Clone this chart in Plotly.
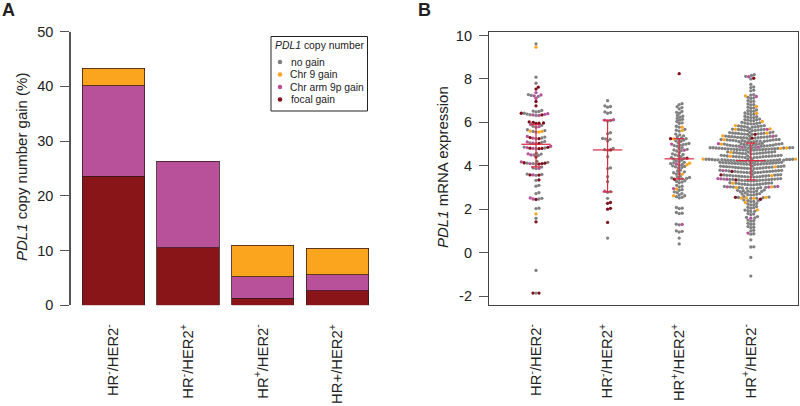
import math
import plotly.graph_objects as go

# panel A values
bar_labels = ["HR<sup>-</sup>/HER2<sup>-</sup>", "HR<sup>-</sup>/HER2<sup>+</sup>",
              "HR<sup>+</sup>/HER2<sup>-</sup>", "HR+/HER2<sup>+</sup>"]
focal_pct = [23.6, 10.5, 1.3, 2.7]
arm9p_pct = [16.5, 15.8, 3.9, 2.9]
chr9_pct = [3.2, None, 5.8, 4.8]
y_ticks_a = [0, 10, 20, 30, 40, 50]

# panel B values, one list per group and copy number class
swarm_labels = ["HR<sup>-</sup>/HER2<sup>-</sup>", "HR<sup>-</sup>/HER2<sup>+</sup>",
                "HR<sup>+</sup>/HER2<sup>+</sup>", "HR<sup>+</sup>/HER2<sup>-</sup>"]
y_ticks_b = [-2, 0, 2, 4, 6, 8, 10]
y_tick_text_b = ["-2", "0", "2", "4", "6", "8", "10"]

g1_gray = [-1.86, -0.82, 1.58, 2.03, 2.05, 2.47, 2.5, 2.72, 2.76, 3.06, 3.1, 3.33, 3.56, 3.6, 3.62, 3.87, 3.9, 3.94,
           4.07, 4.1, 4.12, 4.16, 4.2, 4.48, 4.5, 4.54, 4.58, 4.79, 4.82, 4.86, 5.02, 5.05, 5.08, 5.12, 5.25, 5.28,
           5.32, 5.55, 5.58, 5.62, 5.66, 5.78, 5.82, 5.86, 6.32, 6.35, 6.38, 6.42, 6.48, 6.5, 6.52, 6.55, 7.2, 7.24,
           7.28, 7.8, 8.08, 9.61]
g1_orange = [1.79, 5.55, 5.58, 5.6, 9.46]
g1_purple = [2.47, 2.52, 3.58, 3.88, 4.1, 4.18, 4.5, 4.55, 4.8, 4.84, 4.9, 5.04, 5.1, 5.27, 5.35, 5.8, 5.9, 6.32,
             6.34, 6.37, 6.4, 7.11, 7.22, 7.26, 7.37]
g1_focal = [-1.86, -1.86, 1.42, 2.45, 3.35, 3.57, 3.58, 4.08, 4.1, 4.12, 4.14, 4.4, 4.79, 4.8, 4.81, 4.85, 5.03,
            5.25, 5.3, 5.95, 5.96, 5.97, 6.0, 6.02, 6.34, 6.42, 6.76, 6.96, 7.53, 7.62]

g2_gray = [0.67, 2.5, 2.78, 2.81, 3.27, 3.5, 3.87, 3.9, 4.42, 4.72, 4.74, 4.8, 5.14, 5.22, 5.24, 5.26, 5.48, 5.52,
           6.06, 6.08, 6.42, 6.45, 6.48, 6.7, 6.73, 6.76, 7.0]
g2_purple = [2.83, 6.1, 6.12]
g2_focal = [1.39, 2.0, 2.04, 2.27, 2.31, 4.73]

g3_gray = [0.4, 0.67, 0.95, 0.98, 1.0, 1.28, 1.31, 1.8, 1.82, 1.85, 2.03, 2.05, 2.08, 2.52, 2.55, 2.58, 2.62, 2.66,
           2.72, 2.76, 2.8, 2.87, 2.9, 3.02, 3.06, 3.1, 3.22, 3.25, 3.28, 3.31, 3.38, 3.4, 3.42, 3.44, 3.46, 3.49,
           3.52, 3.62, 3.65, 3.68, 3.72, 3.76, 3.8, 3.9, 3.92, 3.95, 3.97, 4.0, 4.03, 4.06, 4.1, 4.14, 4.16, 4.18,
           4.22, 4.26, 4.3, 4.32, 4.34, 4.38, 4.42, 4.47, 4.5, 4.52, 4.55, 4.6, 4.68, 4.7, 4.73, 4.76, 4.8, 4.84,
           4.9, 4.93, 4.95, 4.97, 5.0, 5.03, 5.06, 5.12, 5.15, 5.18, 5.22, 5.25, 5.28, 5.34, 5.38, 5.42, 5.46, 5.6,
           5.64, 5.68, 5.78, 5.82, 5.95, 5.98, 6.04, 6.1, 6.14, 6.18, 6.24, 6.28, 6.32, 6.42, 6.46, 6.5, 6.62, 6.68,
           6.72, 6.82, 6.86]
g3_orange = [2.62, 2.93, 3.62, 4.05, 4.12, 5.24, 5.62, 5.78]
g3_purple = [1.3, 2.95, 4.08, 4.72, 5.0]
g3_focal = [3.38, 4.35, 5.25, 8.24]

g4_gray = [-1.08, -0.22, 0.26, 0.27, 0.59, 0.85, 0.87, 1.0, 1.03, 1.15, 1.17, 1.2, 1.3, 1.32, 1.35, 1.45, 1.47, 1.5,
           1.6, 1.62, 1.66, 1.75, 1.78, 1.8, 1.9, 1.91, 1.94, 1.96, 2.05, 2.07, 2.09, 2.12, 2.2, 2.21, 2.24, 2.26,
           2.35, 2.36, 2.38, 2.4, 2.43, 2.5, 2.51, 2.53, 2.54, 2.56, 2.59, 2.65, 2.66, 2.67, 2.69, 2.7, 2.72, 2.75,
           2.8, 2.8, 2.81, 2.82, 2.83, 2.84, 2.85, 2.87, 2.89,
           2.95, 2.95, 2.96, 2.97, 2.98, 2.99, 3.0, 3.01, 3.02, 3.03, 3.04, 3.05,
           3.12, 3.12, 3.13, 3.14, 3.15, 3.15, 3.16, 3.17, 3.18, 3.19, 3.2, 3.2, 3.21, 3.22,
           3.3, 3.3, 3.31, 3.31, 3.32, 3.33, 3.33, 3.34, 3.35, 3.35, 3.36, 3.37, 3.37, 3.38, 3.39, 3.39, 3.4, 3.41,
           3.48, 3.48, 3.49, 3.49, 3.5, 3.5, 3.51, 3.52, 3.52, 3.53, 3.54, 3.54, 3.55, 3.56, 3.56, 3.57, 3.58, 3.58,
           3.59, 3.6,
           3.68, 3.68, 3.69, 3.69, 3.7, 3.7, 3.71, 3.72, 3.72, 3.73, 3.74, 3.74, 3.75, 3.76, 3.76, 3.77, 3.78, 3.78,
           3.79, 3.8,
           3.87, 3.87, 3.88, 3.88, 3.89, 3.89, 3.9, 3.9, 3.91, 3.92, 3.92, 3.93, 3.94, 3.94, 3.95, 3.96, 3.96, 3.97,
           3.97, 3.98, 3.98, 3.99,
           4.06, 4.06, 4.07, 4.07, 4.08, 4.08, 4.09, 4.09, 4.1, 4.1, 4.11, 4.11, 4.12, 4.12, 4.13, 4.13, 4.14, 4.14,
           4.15, 4.15, 4.16, 4.16,
           4.2, 4.2, 4.2, 4.21, 4.21, 4.21, 4.22, 4.22, 4.23, 4.23, 4.24, 4.24, 4.25, 4.25, 4.26, 4.26, 4.26, 4.27,
           4.27, 4.27, 4.28, 4.28, 4.28, 4.29, 4.29, 4.29, 4.3, 4.3, 4.3, 4.31,
           4.38, 4.38, 4.39, 4.39, 4.4, 4.4, 4.41, 4.42, 4.42, 4.43, 4.43, 4.44, 4.45, 4.45, 4.46, 4.46, 4.47, 4.47,
           4.48, 4.48,
           4.55, 4.55, 4.56, 4.56, 4.57, 4.58, 4.58, 4.59, 4.6, 4.61, 4.61, 4.62, 4.63, 4.63, 4.64, 4.65,
           4.72, 4.72, 4.72, 4.73, 4.73, 4.74, 4.74, 4.75, 4.75, 4.76, 4.76, 4.77, 4.77, 4.78, 4.78, 4.79, 4.79, 4.8,
           4.8, 4.81, 4.81, 4.82, 4.82, 4.83, 4.83, 4.83, 4.84, 4.84, 4.85, 4.85,
           4.9, 4.9, 4.91, 4.91, 4.92, 4.92, 4.93, 4.94, 4.94, 4.95, 4.96, 4.96, 4.97, 4.98, 4.98, 4.99, 5.0, 5.0,
           5.01, 5.02, 5.02, 5.03,
           5.1, 5.1, 5.11, 5.11, 5.12, 5.13, 5.13, 5.14, 5.15, 5.15, 5.16, 5.17, 5.17, 5.18, 5.19, 5.19, 5.2, 5.21,
           5.21, 5.22,
           5.28, 5.28, 5.29, 5.29, 5.3, 5.31, 5.31, 5.32, 5.33, 5.33, 5.34, 5.35, 5.35, 5.36, 5.37, 5.38,
           5.45, 5.45, 5.46, 5.47, 5.47, 5.48, 5.49, 5.5, 5.5, 5.51, 5.52, 5.53, 5.54, 5.55,
           5.62, 5.62, 5.63, 5.64, 5.65, 5.66, 5.66, 5.67, 5.68, 5.69, 5.7,
           5.78, 5.78, 5.79, 5.8, 5.81, 5.82, 5.83, 5.84, 5.85,
           5.93, 5.93, 5.94, 5.95, 5.97, 5.98, 6.0,
           6.08, 6.08, 6.1, 6.12, 6.13, 6.15,
           6.22, 6.22, 6.24, 6.26, 6.28, 6.36, 6.37, 6.4, 6.43,
           6.5, 6.51, 6.54, 6.57, 6.65, 6.67, 6.7, 6.8, 6.82, 6.85, 6.95, 6.97, 7.0, 7.1, 7.12, 7.15,
           7.25, 7.28, 7.45, 7.48, 7.6, 7.63, 7.75, 8.0, 8.12, 8.16, 8.2]
g4_orange = [1.97, 2.31, 2.5, 2.51, 2.52, 2.55, 3.0, 3.03, 3.2, 3.55, 3.95, 4.31, 4.31, 4.44, 4.62, 4.8, 4.82, 5.0,
             5.2, 5.38, 5.5, 5.68, 5.7, 5.85, 6.04, 6.42, 6.73, 7.22]
g4_purple = [0.9, 1.59, 3.02, 3.03, 3.05, 3.38, 3.4, 3.41, 3.78, 4.86, 4.86, 5.02, 5.36, 5.68, 7.19, 8.1]
g4_focal = [2.46, 2.55, 3.35, 3.58, 3.74, 5.27, 5.45, 8.03]

g1_stats = [3.95, 4.99, 5.9]
g2_stats = [2.8, 4.73, 6.1]
g3_stats = [3.4, 4.32, 5.25]
g4_stats = [3.35, 4.24, 5.04]

legend_labels = ["no gain", "Chr 9 gain", "Chr arm 9p gain", "focal gain"]

GRAY = "#808080"
ORANGE = "#FBA41D"
PURPLE = "#B8509A"
DARK = "#8A1519"
POINT_DARK = "#7E0F1B"
RED = "#DC2A40"
AXIS = "#555555"
FONT = "Liberation Sans"

W, H = 800, 406
BX0, BX1, BY0, BY1 = 489, 798, 32, 305
GROUP_STEP = 71.6     # px between swarm columns
UNIT_PX = 21.73       # px per expression unit
DOT = 3.0


def fx(px):
    return px / W


def fy(px):
    return 1 - px / H


def swarm(values):
    # ascending swarm: every point goes as near the centre line as it can
    placed = []
    for v, cat in sorted(values, key=lambda t: t[0]):
        y = v * UNIT_PX
        near = [(px, py) for px, py, _, _ in placed if abs(py - y) < DOT]
        cands = [0.0]
        for px, py in near:
            dx = math.sqrt(DOT ** 2 - (py - y) ** 2)
            cands += [px + dx, px - dx]
        cands.sort(key=abs)
        for c in cands:
            if all((c - px) ** 2 + (y - py) ** 2 >= DOT ** 2 - 1e-6 for px, py in near):
                placed.append((c, y, v, cat))
                break
    return placed


fig = go.Figure()

# panel A
for name, vals, col in [("focal", focal_pct, DARK), ("arm", arm9p_pct, PURPLE), ("chr9", chr9_pct, ORANGE)]:
    fig.add_trace(go.Bar(x=bar_labels, y=vals, width=0.836, marker=dict(color=col, line=dict(color="#3a1a1a", width=0.8)),
                         showlegend=False, name=name, xaxis="x", yaxis="y"))

# panel B
groups = [
    (g1_gray, g1_orange, g1_purple, g1_focal, g1_stats),
    (g2_gray, [], g2_purple, g2_focal, g2_stats),
    (g3_gray, g3_orange, g3_purple, g3_focal, g3_stats),
    (g4_gray, g4_orange, g4_purple, g4_focal, g4_stats),
]
points = {GRAY: ([], []), ORANGE: ([], []), PURPLE: ([], []), POINT_DARK: ([], [])}
for i, (gray, orange, purple, focal, _) in enumerate(groups):
    tagged = [(v, GRAY) for v in gray] + [(v, ORANGE) for v in orange] + \
             [(v, PURPLE) for v in purple] + [(v, POINT_DARK) for v in focal]
    for px, _, v, cat in swarm(tagged):
        points[cat][0].append(i + px / GROUP_STEP)
        points[cat][1].append(v)

for col, (xs, ys) in points.items():
    fig.add_trace(go.Scatter(x=xs, y=ys, mode="markers", marker=dict(color=col, size=3.3, line=dict(width=0)),
                             showlegend=False, xaxis="x2", yaxis="y2"))

# median and quartile bars
for i, (_, _, _, _, stats) in enumerate(groups):
    q1, med, q3 = stats
    fig.add_trace(go.Scatter(
        x=[i], y=[med], mode="markers", marker=dict(size=1, opacity=0), showlegend=False, xaxis="x2", yaxis="y2",
        error_y=dict(type="data", symmetric=False, array=[q3 - med], arrayminus=[med - q1], color=RED, thickness=1.2, width=5),
        error_x=dict(type="constant", value=0.205, color=RED, thickness=1.2, width=0)))

fig.update_layout(
    width=W, height=H, autosize=False, margin=dict(l=0, r=0, t=0, b=0, autoexpand=False),
    paper_bgcolor="white", plot_bgcolor="white", barmode="stack", showlegend=False,
    font=dict(family=FONT, size=14, color="#222222"),
    xaxis=dict(domain=[fx(71), fx(375)], range=[-0.57, 3.505], type="category", categoryorder="array",
               categoryarray=bar_labels, showline=False, showgrid=False, zeroline=False, ticks="outside", ticklen=12,
               tickcolor="rgba(0,0,0,0)", tickangle=-90, tickfont=dict(size=14.8)),
    yaxis=dict(domain=[fy(305.3), fy(31.7)], range=[0, 50], tickvals=y_ticks_a, showline=True, linecolor=AXIS, linewidth=1.5,
               ticks="outside", ticklen=9, tickcolor=AXIS, tickwidth=1.2, showgrid=False, zeroline=False,
               tickfont=dict(size=14.5), ticklabelstandoff=4, anchor="x"),
    xaxis2=dict(domain=[fx(BX0), fx(BX1)], range=[-(536 - BX0) / GROUP_STEP, (BX1 - 536) / GROUP_STEP], tickvals=[0, 1, 2, 3],
                ticktext=swarm_labels, showline=True, mirror=True, linecolor="#444444", linewidth=1.2, showgrid=False, zeroline=False,
                ticks="outside", ticklen=12, tickcolor="rgba(0,0,0,0)", tickangle=-90, tickfont=dict(size=14.8), anchor="y2"),
    yaxis2=dict(domain=[fy(BY1), fy(BY0)], range=[-2.41, 10.16], tickvals=y_ticks_b, ticktext=y_tick_text_b, showline=True,
                mirror=True, linecolor="#444444", linewidth=1.2, ticks="outside", ticklen=9, tickcolor=AXIS, tickwidth=1.2,
                showgrid=False, zeroline=False, tickfont=dict(size=14.5), ticklabelstandoff=4, anchor="x2"),
)


def note(x, y, text, size=14, xanchor="center", **kw):
    fig.add_annotation(xref="paper", yref="paper", x=fx(x), y=fy(y), text=text, showarrow=False, xanchor=xanchor, yanchor="middle",
                       font=dict(family=FONT, size=size, color="#222222"), **kw)


note(8, 10, "<b>A</b>", 18)
note(424, 10, "<b>B</b>", 18)
note(21, 167, "<i>PDL1</i> copy number gain (%)", 15, textangle=-90)
note(442, 167, "<i>PDL1</i> mRNA expression", 15, textangle=-90)

# hand-drawn legend box, as plotly's own legend rows cannot be this tight
fig.add_shape(type="rect", xref="paper", yref="paper", x0=fx(271), x1=fx(367.5), y0=fy(111), y1=fy(36.5),
              line=dict(color="#222222", width=1), fillcolor="white")
note(319.5, 45, "<i>PDL1</i> copy number", 10.4)
for lab, col, ly, lx in zip(legend_labels, [GRAY, ORANGE, PURPLE, POINT_DARK], [62, 74.5, 87, 99.5], [289, 288, 288, 289]):
    fig.add_shape(type="circle", xref="paper", yref="paper", x0=fx(277.7), x1=fx(282.3), y0=fy(ly + 2.3), y1=fy(ly - 2.3),
                  fillcolor=col, line=dict(width=0))
    note(lx, ly, lab, 10.3, xanchor="left")

# drop the page's default 8px body margin so the figure sits at the window's corner
fig.write_html("out.html", config={"displayModeBar": False}, post_script="document.body.style.margin='0';")
